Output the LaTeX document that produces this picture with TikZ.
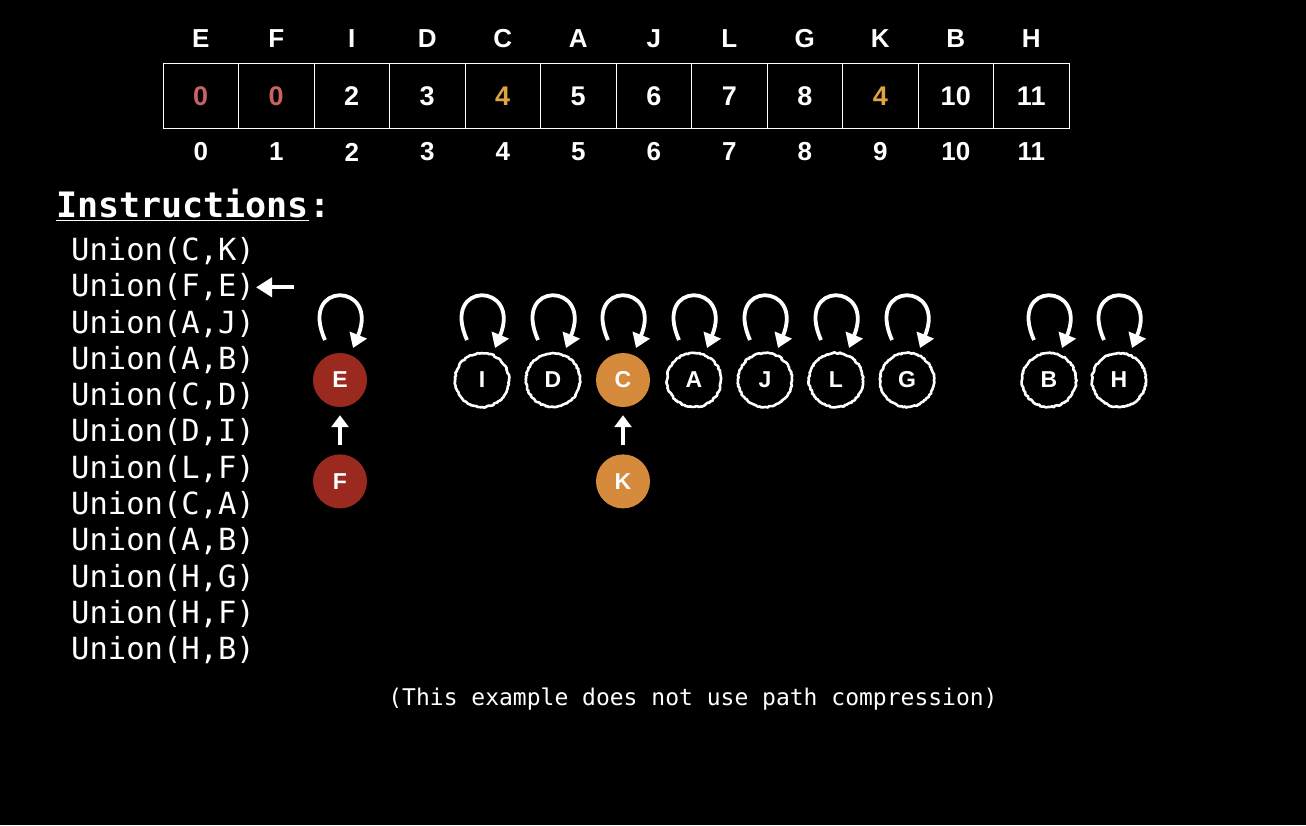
\documentclass[tikz,border=0pt]{standalone}
\usepackage{fontspec}
\setsansfont{Liberation Sans}
\setmonofont{DejaVu Sans Mono}
\usepackage{tikz}
\usetikzlibrary{positioning, arrows.meta, decorations.pathmorphing}

\definecolor{rootred}{HTML}{9A2A1F}
\definecolor{rootorange}{HTML}{D58A3C}
\definecolor{valred}{HTML}{C96262}
\definecolor{valorange}{HTML}{E0A444}

\tikzset{
  cell/.style={draw=white,line width=1pt,minimum height=65pt,minimum width=75.5pt,outer sep=0pt,
    font=\sffamily\bfseries\fontsize{27}{29}\selectfont},
  head/.style={text=white,font=\sffamily\bfseries\fontsize{26}{28}\selectfont},
  vertex/.style={circle,minimum size=54pt,inner sep=0pt,text=white,
    font=\sffamily\bfseries\fontsize{23}{25}\selectfont},
  rough/.style={vertex,draw=white,line width=2.6pt,line join=round,decorate,
    decoration={random steps,segment length=1.6pt,amplitude=0.7pt}},
  selfloop/.style={draw=white,line width=3.8pt,-{Triangle[width=18pt,length=14pt]}},
  uparrow/.style={draw=white,line width=4pt,-{Triangle[width=17pt,length=12pt]}},
  instr/.style={anchor=west,text=white,inner sep=0pt,font=\ttfamily\fontsize{30.5}{32}\selectfont}
}

\begin{document}
\begin{tikzpicture}[x=1pt,y=1pt]
\fill[black] (0,-825) rectangle (1306,0);
\useasboundingbox (0,-825) rectangle (1306,0);

% array of parents
\foreach \n/\v/\c[count=\i from 0] in {E/0/valred,F/0/valred,I/2/white,D/3/white,C/4/valorange,
    A/5/white,J/6/white,L/7/white,G/8/white,K/4/valorange,B/10/white,H/11/white}
{
  \node[cell,text=\c] (c\i) at (200.75+75.5*\i,-96) {\v};
  \node[head] (h\i) at (200.75+75.5*\i,-39) {\n};
  \node[head] (x\i) at (200.75+75.5*\i,-152) {\i};
}

% instructions
\node[anchor=west,text=white,inner sep=0pt,font=\ttfamily\bfseries\fontsize{35}{37}\selectfont]
  (title) at (56,-205) {\underline{Instructions}:};
\foreach \t[count=\i] in {{C,K},{F,E},{A,J},{A,B},{C,D},{D,I},{L,F},{C,A},{A,B},{H,G},{H,F},{H,B}}
  \node[instr] (u\i) at (71,-251-36.3*\i+36.3) {Union(\t)};
\coordinate (cur) at (294,-285);
\draw[draw=white,line width=4pt,-{Triangle[width=19pt,length=16pt]}] (cur |- u2.east) -- ([xshift=1pt]u2.east);

% forest
\node[vertex,fill=rootred] (E) at (340,-380) {E};
\node[vertex,fill=rootred,below=47pt of E] (F) {F};
\node[vertex,fill=rootorange] (C) at (623,-380) {C};
\node[vertex,fill=rootorange,below=47pt of C] (K) {K};
\foreach \n/\x in {I/482,D/553,A/694,J/765,L/836,G/907,B/1049,H/1119}
  \node[rough] (\n) at (\x,-380) {\n};

\foreach \n in {E,I,D,C,A,J,L,G,B,H}
  \draw[selfloop] ([shift={(-15,40)}]\n.center) .. controls +(-27,60) and +(27,66) .. ([shift={(13,32)}]\n.center);

\draw[uparrow,shorten <=9pt,shorten >=8pt] (F) -- (E);
\draw[uparrow,shorten <=9pt,shorten >=8pt] (K) -- (C);

\node[text=white,font=\ttfamily\fontsize{23}{25}\selectfont] (note) at (693,-699)
  {(This example does not use path compression)};
\end{tikzpicture}
\end{document}
